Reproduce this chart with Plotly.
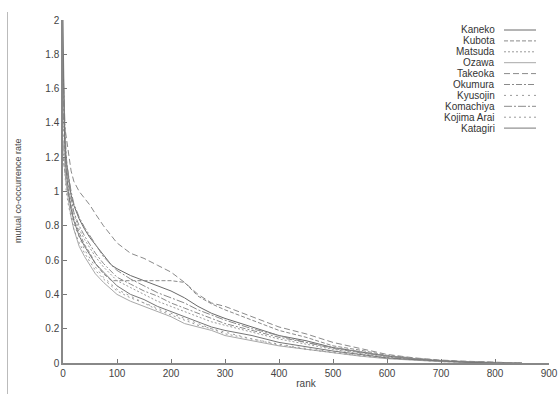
import plotly.graph_objects as go

ranks = [0, 3, 6, 10, 15, 20, 30, 40, 50, 60, 75, 90, 100, 125, 150, 175, 200, 225, 250, 275, 300,
         350, 400, 450, 500, 550, 600, 650, 700, 750, 800, 850, 870]

names = ["Kaneko", "Kubota", "Matsuda", "Ozawa", "Takeoka", "Okumura", "Kyusojin",
         "Komachiya", "Kojima Arai", "Katagiri"]

kaneko = [1.8, 1.35, 1.18, 1.08, 0.98, 0.92, 0.84, 0.78, 0.73, 0.69, 0.63, 0.57, 0.55, 0.51, 0.48, 0.45, 0.42,
          0.38, 0.33, 0.29, 0.26, 0.21, 0.16, 0.13, 0.09, 0.065, 0.04, 0.025, 0.012, 0.006, 0.002, 0.0, None]
kubota = [1.2, 1.12, 1.05, 0.98, 0.9, 0.84, 0.76, 0.69, 0.64, 0.58, 0.52, 0.48, 0.48, 0.48, 0.48, 0.48, 0.48,
          0.47, 0.39, 0.345, 0.31, 0.25, 0.19, 0.15, 0.10, 0.075, 0.045, 0.028, 0.015, 0.008, 0.003, None, None]
matsuda = [1.5, 1.25, 1.12, 1.02, 0.93, 0.87, 0.78, 0.72, 0.67, 0.62, 0.56, 0.51, 0.48, 0.44, 0.40, 0.36, 0.33,
           0.30, 0.27, 0.24, 0.22, 0.18, 0.14, 0.11, 0.08, 0.055, 0.035, 0.02, 0.01, 0.005, 0.0, None, None]
ozawa = [1.3, 1.15, 1.05, 0.95, 0.85, 0.78, 0.68, 0.62, 0.57, 0.52, 0.47, 0.43, 0.40, 0.36, 0.33, 0.30, 0.27,
         0.23, 0.21, 0.19, 0.16, 0.13, 0.10, 0.08, 0.06, 0.04, 0.025, 0.015, 0.008, 0.003, 0.0, None, None]
takeoka = [1.45, 1.38, 1.3, 1.22, 1.12, 1.06, 1.0, 0.96, 0.92, 0.87, 0.80, 0.74, 0.70, 0.64, 0.61, 0.57, 0.53,
           0.47, 0.40, 0.35, 0.33, 0.27, 0.21, 0.17, 0.12, 0.085, 0.05, 0.03, 0.017, 0.01, 0.005, 0.0, None]
okumura = [1.6, 1.3, 1.15, 1.05, 0.96, 0.88, 0.80, 0.74, 0.69, 0.64, 0.58, 0.53, 0.50, 0.46, 0.42, 0.39, 0.35,
           0.32, 0.29, 0.26, 0.23, 0.19, 0.15, 0.12, 0.085, 0.06, 0.04, 0.025, 0.012, 0.005, 0.001, None, None]
kyusojin = [1.4, 1.2, 1.08, 0.98, 0.88, 0.81, 0.73, 0.66, 0.61, 0.56, 0.50, 0.46, 0.43, 0.39, 0.35, 0.32, 0.29,
            0.26, 0.23, 0.20, 0.18, 0.14, 0.11, 0.085, 0.065, 0.045, 0.03, 0.018, 0.009, 0.004, 0.0, None, None]
komachiya = [1.7, 1.4, 1.2, 1.1, 1.0, 0.93, 0.85, 0.79, 0.74, 0.69, 0.62, 0.57, 0.54, 0.49, 0.45, 0.41, 0.38,
             0.35, 0.31, 0.28, 0.25, 0.20, 0.16, 0.12, 0.09, 0.065, 0.042, 0.025, 0.013, 0.006, 0.002, 0.0, None]
kojima_arai = [1.25, 1.1, 1.0, 0.92, 0.84, 0.78, 0.70, 0.64, 0.59, 0.54, 0.49, 0.45, 0.42, 0.38, 0.35, 0.31, 0.28,
               0.25, 0.22, 0.20, 0.17, 0.14, 0.105, 0.08, 0.06, 0.042, 0.028, 0.016, 0.008, 0.003, 0.0, None, None]
katagiri = [2.0, 1.3, 1.12, 1.0, 0.9, 0.83, 0.74, 0.68, 0.63, 0.58, 0.53, 0.48, 0.45, 0.40, 0.37, 0.33, 0.30,
            0.27, 0.24, 0.21, 0.19, 0.16, 0.12, 0.095, 0.07, 0.05, 0.03, 0.02, 0.01, 0.004, 0.0, None, None]

series = [kaneko, kubota, matsuda, ozawa, takeoka, okumura, kyusojin, komachiya, kojima_arai, katagiri]

x_ticks = [0, 100, 200, 300, 400, 500, 600, 700, 800, 900]
y_ticks = [0, 0.2, 0.4, 0.6, 0.8, 1, 1.2, 1.4, 1.6, 1.8, 2]
y_tick_text = ["0", "0.2", "0.4", "0.6", "0.8", "1", "1.2", "1.4", "1.6", "1.8", "2"]

styles = [
    ("#6a6a6a", "solid"),
    ("#8a8a8a", "4px,2px"),
    ("#9a9a9a", "2px,2px"),
    ("#a8a8a8", "solid"),
    ("#8a8a8a", "6px,3px"),
    ("#8a8a8a", "6px,2px,2px,2px"),
    ("#9a9a9a", "2px,4px"),
    ("#8a8a8a", "8px,2px,2px,2px"),
    ("#9a9a9a", "2px,3px"),
    ("#777777", "solid"),
]

fig = go.Figure()
for name, vals, (col, dash) in zip(names, series, styles):
    fig.add_trace(go.Scatter(x=ranks, y=vals, mode="lines", name=name, showlegend=False,
                             line=dict(color=col, width=1, dash=dash)))

W, H = 559, 394
L, T = 63, 20
pw, ph = 486, 343
R = W - L - pw
B = H - T - ph

def px_to_paper(px, py):
    return (px - L) / pw, (T + ph - py) / ph

label_font = dict(family="Liberation Sans, Arial, sans-serif", size=10, color="#333")
annotations = []
shapes = []
for i, (name, (col, dash)) in enumerate(zip(names, styles)):
    py = 30 + i * 10.9
    xt, yt = px_to_paper(497, py)
    x0, _ = px_to_paper(504, py)
    x1, _ = px_to_paper(536, py)
    annotations.append(dict(x=xt, y=yt, xref="paper", yref="paper", text=name, showarrow=False,
                            xanchor="right", yanchor="middle", font=label_font))
    shapes.append(dict(type="line", xref="paper", yref="paper", x0=x0, x1=x1, y0=yt, y1=yt,
                       line=dict(color=col, width=1, dash=dash)))

# y-axis title
ytx, yty = px_to_paper(18, 191)
annotations.append(dict(x=ytx, y=yty, xref="paper", yref="paper", text="mutual co-occurrence rate",
                        showarrow=False, textangle=-90, xanchor="center", yanchor="middle",
                        font=dict(family="Liberation Sans, Arial, sans-serif", size=9, color="#444")))

# page border line at the left
bx, _ = px_to_paper(7.5, 0)
_, by0 = px_to_paper(0, 394)
_, by1 = px_to_paper(0, 12)
shapes.append(dict(type="line", xref="paper", yref="paper", x0=bx, x1=bx, y0=by0, y1=by1,
                   line=dict(color="#bbbbbb", width=1)))

font = dict(family="Liberation Sans, Arial, sans-serif", size=10, color="#444")
fig.update_layout(
    width=W, height=H,
    margin=dict(l=L, r=R, t=T, b=B),
    paper_bgcolor="white", plot_bgcolor="white",
    font=font,
    annotations=annotations,
    shapes=shapes,
    xaxis=dict(range=[0, 900], tickvals=x_ticks, ticks="inside", ticklen=4, tickcolor="#777",
               showline=True, linecolor="#888", linewidth=1.5, showgrid=False, zeroline=False,
               automargin=False, ticklabeloverflow="allow",
               title=dict(text="rank", standoff=2, font=dict(size=10, color="#444")),
               tickfont=dict(size=10, color="#444")),
    yaxis=dict(range=[0, 2], tickvals=y_ticks, ticktext=y_tick_text, ticks="inside", ticklen=4,
               tickcolor="#777", showline=True, linecolor="#888", linewidth=1.5, showgrid=False,
               zeroline=False, automargin=False, ticklabeloverflow="allow",
               tickfont=dict(size=10, color="#444")),
)

fig.write_html("out.html", config={"displayModeBar": False},
               post_script="document.body.style.margin='0';document.body.style.overflow='hidden';")
